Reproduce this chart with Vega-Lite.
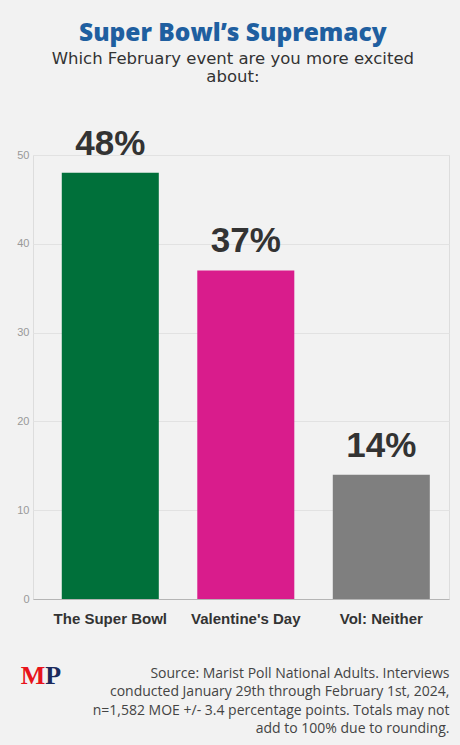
{
  "$schema": "https://vega.github.io/schema/vega-lite/v6.json",
  "width": 416,
  "height": 444,
  "autosize": {"type": "none"},
  "padding": {"left": 33, "right": 11, "top": 155, "bottom": 146},
  "background": "#f2f2f2",
  "title": {
    "text": "Super Bowl’s Supremacy",
    "subtitle": ["Which February event are you more excited", "about:"],
    "anchor": "middle",
    "frame": "bounds",
    "font": "Open Sans",
    "fontSize": 24.5,
    "fontWeight": 800,
    "color": "#1f5fa0",
    "subtitleFont": "DejaVu Sans",
    "subtitleFontSize": 16.5,
    "subtitleColor": "#333333",
    "subtitleLineHeight": 18,
    "subtitlePadding": 5,
    "offset": 40
  },
  "datasets": {
    "poll": [
      {"event": "The Super Bowl", "pct": 48, "label": "48%"},
      {"event": "Valentine's Day", "pct": 37, "label": "37%"},
      {"event": "Vol: Neither", "pct": 14, "label": "14%"}
    ]
  },
  "layer": [
    {
      "data": {"name": "poll"},
      "mark": {"type": "bar"},
      "encoding": {
        "x": {
          "field": "event",
          "type": "nominal",
          "sort": null,
          "scale": {"paddingInner": 0.284, "paddingOuter": 0.177, "align": 0.6},
          "axis": {
            "title": [
              "Source: Marist Poll National Adults. Interviews",
              "conducted January 29th through February 1st, 2024,",
              "n=1,582 MOE +/- 3.4 percentage points. Totals may not",
              "add to 100% due to rounding."
            ],
            "titleAnchor": "end",
            "titleAlign": "right",
            "titleFont": "Open Sans",
            "titleFontSize": 14,
            "titleFontWeight": "normal",
            "titleColor": "#444444",
            "titleLineHeight": 18.5,
            "titlePadding": 40,
            "labelAngle": 0,
            "labelFont": "Liberation Sans",
            "labelFontWeight": "bold",
            "labelFontSize": 15,
            "labelColor": "#333333",
            "labelPadding": 12,
            "ticks": false,
            "domainColor": "#b5b5b5",
            "grid": false
          }
        },
        "y": {
          "field": "pct",
          "type": "quantitative",
          "scale": {"domain": [0, 50], "nice": false},
          "axis": {
            "title": null,
            "values": [0, 10, 20, 30, 40, 50],
            "labelFont": "Liberation Sans",
            "labelFontSize": 11,
            "labelColor": "#999999",
            "labelPadding": 4,
            "ticks": false,
            "domain": false,
            "gridColor": "#e2e2e2"
          }
        },
        "color": {
          "field": "event",
          "type": "nominal",
          "scale": {
            "domain": ["The Super Bowl", "Valentine's Day", "Vol: Neither"],
            "range": ["#00703a", "#d91c8c", "#7f7f7f"]
          },
          "legend": null
        }
      }
    },
    {
      "data": {"name": "poll"},
      "mark": {
        "type": "text",
        "font": "Liberation Sans",
        "fontSize": 35,
        "fontWeight": "bold",
        "color": "#333333",
        "baseline": "alphabetic",
        "dy": -18
      },
      "encoding": {
        "x": {"field": "event", "type": "nominal", "sort": null},
        "y": {"field": "pct", "type": "quantitative"},
        "text": {"field": "label"}
      }
    },
    {
      "data": {"values": [{"letter": "M"}]},
      "mark": {
        "type": "text",
        "font": "Liberation Serif",
        "fontSize": 26,
        "fontWeight": "bold",
        "color": "#e8141b",
        "align": "right",
        "baseline": "alphabetic",
        "dx": -65
      },
      "encoding": {
        "x": {"datum": "The Super Bowl", "type": "nominal"},
        "y": {"datum": -9.6, "type": "quantitative", "scale": {"domain": [0, 50], "nice": false}},
        "text": {"field": "letter"}
      }
    },
    {
      "data": {"values": [{"letter": "P"}]},
      "mark": {
        "type": "text",
        "font": "Liberation Serif",
        "fontSize": 26,
        "fontWeight": "bold",
        "color": "#1b2a5c",
        "align": "left",
        "baseline": "alphabetic",
        "dx": -65
      },
      "encoding": {
        "x": {"datum": "The Super Bowl", "type": "nominal"},
        "y": {"datum": -9.6, "type": "quantitative", "scale": {"domain": [0, 50], "nice": false}},
        "text": {"field": "letter"}
      }
    }
  ]
}
